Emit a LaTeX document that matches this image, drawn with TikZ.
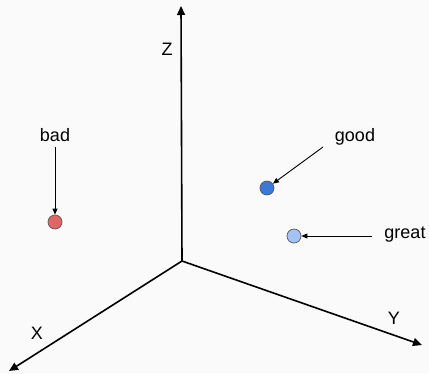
\documentclass[tikz,border=0pt]{standalone}
\usepackage{fontspec}
\setmainfont{Liberation Sans}
\usetikzlibrary{arrows.meta}
\definecolor{bg}{HTML}{FAFAFA}
\definecolor{badc}{HTML}{E06666}
\definecolor{goodc}{HTML}{3C78D8}
\definecolor{greatc}{HTML}{A4C2F4}
\definecolor{rim}{HTML}{595959}
\begin{document}
\begin{tikzpicture}[x=1pt,y=-1pt,
  axis/.style={line width=1.6pt,-{Triangle[length=9pt,width=8pt]}},
  pointer/.style={line width=0.9pt,-{Triangle[length=6pt,width=5pt]}},
  dot/.style={circle,draw=rim,line width=0.7pt,minimum size=14pt,inner sep=0pt},
  lbl/.style={font=\fontsize{18}{20}\selectfont,inner sep=0pt}]
\fill[bg] (0,0) rectangle (429,373);
\useasboundingbox (0,0) rectangle (429,373);
\coordinate (O) at (182,261);
\coordinate (Zt) at (181,6);
\coordinate (Xt) at (9,371);
\coordinate (Yt) at (422,345);
\draw[axis] (O) -- (Zt);
\draw[axis] (O) -- (Xt);
\draw[axis] (O) -- (Yt);
\node[lbl] (zl) at (167,49) {Z};
\node[lbl] (xl) at (37,333) {X};
\node[lbl] (yl) at (394,318) {Y};
\node[dot,fill=badc] (bad) at (55,222) {};
\node[dot,fill=goodc] (good) at (267,188) {};
\node[dot,fill=greatc] (great) at (294,236) {};
\node[lbl] (badl) at (55,135) {bad};
\node[lbl] (goodl) at (355,137) {good};
\node[lbl] (greatl) at (405,235) {great};
\coordinate (b0) at (55,147);
\coordinate (g0) at (323,147);
\coordinate (r0) at (372,236);
\draw[pointer] (b0) -- (bad);
\draw[pointer] (g0) -- (good);
\draw[pointer] (r0) -- (great);
\end{tikzpicture}
\end{document}
